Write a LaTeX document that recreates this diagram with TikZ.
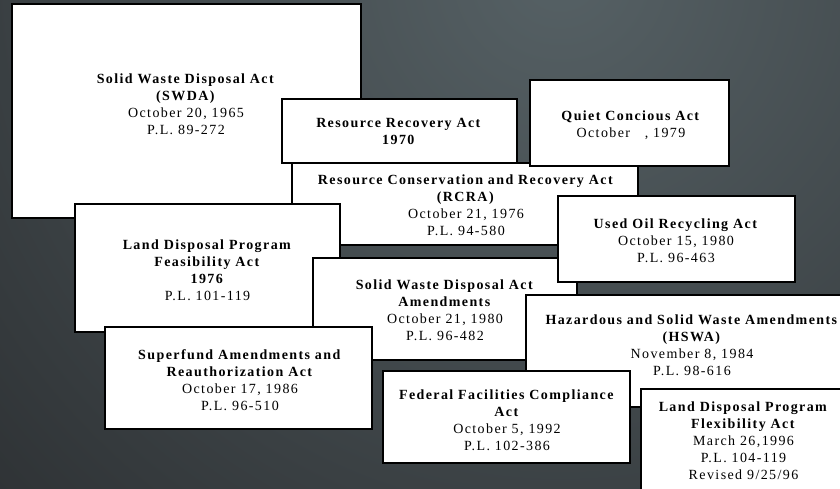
\documentclass[tikz,border=0pt]{standalone}
\usepackage{fontspec}
\setmainfont{Liberation Serif}[LetterSpace=10]
\usepackage{tikz}
\definecolor{bgtop}{HTML}{566165}
\definecolor{bgbot}{HTML}{19191B}
\tikzset{act box/.style={draw=black,fill=white,line width=2.6pt},act text/.style={align=center,inner sep=0pt,font=\fontsize{14}{17}\selectfont}}

\begin{document}
\begin{tikzpicture}[x=1pt,y=-1pt]
	\clip (0,0) rectangle (840,488);
	\shade[inner color=bgtop,outer color=bgbot] (560,-30) circle (1200);
	% 1965
	\draw[act box] (12,4) rectangle (361,218);
	\node[act text] (swda) at (186,104) {\textbf{Solid Waste Disposal Act}\\\textbf{(SWDA)}\\October 20, 1965\\P.L. 89-272};
	% 1976
	\draw[act box] (292,163) rectangle (638,245);
	\node[act text] (rcra) at (466,205) {\textbf{Resource Conservation and Recovery Act}\\\textbf{(RCRA)}\\October 21, 1976\\P.L. 94-580};
	% 1970
	\draw[act box] (282,99) rectangle (517,163);
	\node[act text] (rra) at (399,131.5) {\textbf{Resource Recovery Act}\\\textbf{1970}};
	% 1979
	\draw[act box] (530,80) rectangle (729,166);
	\node[act text] (quiet) at (631,125.5) {\textbf{Quiet Concious Act}\\October\ \ \ , 1979};
	\draw[act box] (75,204) rectangle (340,332);
	\node[act text] (ldpfa) at (207.5,270) {\textbf{Land Disposal Program}\\\textbf{Feasibility Act}\\\textbf{1976}\\P.L. 101-119};
	% 1980
	\draw[act box] (313,258) rectangle (577,360);
	\node[act text] (swdaa) at (445,310) {\textbf{Solid Waste Disposal Act}\\\textbf{Amendments}\\October 21, 1980\\P.L. 96-482};
	\draw[act box] (558,196) rectangle (795,282);
	\node[act text] (usedoil) at (676,240.5) {\textbf{Used Oil Recycling Act}\\October 15, 1980\\P.L. 96-463};
	% 1984 - 1996
	\draw[act box] (105,327) rectangle (372,429);
	\node[act text] (sara) at (240,380) {\textbf{Superfund Amendments and}\\\textbf{Reauthorization Act}\\October 17, 1986\\P.L. 96-510};
	\draw[act box] (526,295) rectangle (858,407);
	\node[act text] (hswa) at (692,345) {\textbf{Hazardous and Solid Waste Amendments}\\\textbf{(HSWA)}\\November 8, 1984\\P.L. 98-616};
	\draw[act box] (383,371) rectangle (630,463);
	\node[act text] (ffca) at (507,420) {\textbf{Federal Facilities Compliance}\\\textbf{Act}\\October 5, 1992\\P.L. 102-386};
	\draw[act box] (641,389) rectangle (846,500);
	\node[act text] (ldpflex) at (743.5,440.5) {\textbf{Land Disposal Program}\\\textbf{Flexibility Act}\\March 26,1996\\P.L. 104-119\\Revised 9/25/96};
\end{tikzpicture}
\end{document}
